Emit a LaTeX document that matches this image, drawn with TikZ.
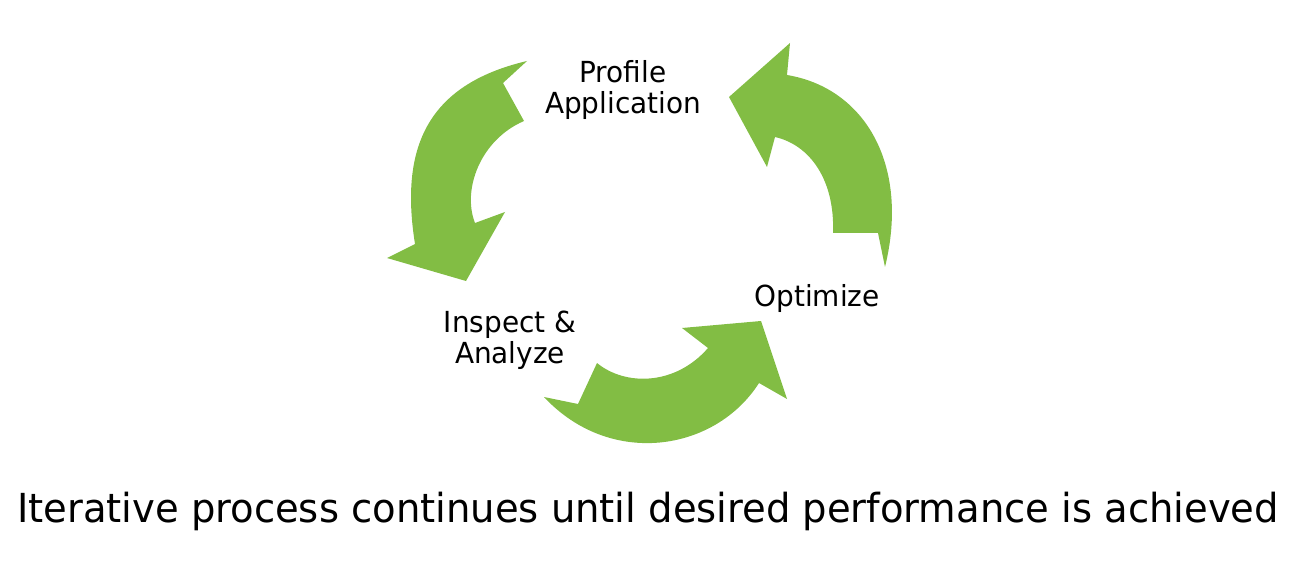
\documentclass[tikz,border=0pt]{standalone}
\usepackage{fontspec}
\setmainfont{DejaVu Sans Condensed}[FakeStretch=1.07]
\usepackage{xcolor}
\definecolor{cyclegreen}{HTML}{82BD44}

\begin{document}
\begin{tikzpicture}[x=1pt, y=-1pt,
  cyclearrow/.style={fill=cyclegreen, draw=none},
  steplabel/.style={align=center, inner sep=0pt, font=\fontsize{29}{31}\selectfont}]
  \useasboundingbox (0,0) rectangle (1311,561);
  % profile -> inspect
  \fill[cyclearrow] (527,61) -- (503,83) -- (524,121)
    .. controls (480,140) and (462,190) .. (475,223)
    -- (505,212) -- (466,281) -- (387,258) -- (415,244)
    .. controls (400,150) and (425,85) .. cycle;
  % inspect -> optimize
  \fill[cyclearrow] (544,397) -- (578,404) -- (597,363)
    .. controls (625,386) and (675,386) .. (708,348)
    -- (682,328) -- (761,321) -- (787,399) -- (759,383)
    .. controls (715,452) and (610,468) .. cycle;
  % optimize -> profile
  \fill[cyclearrow] (885,267) -- (878,233) -- (833,233)
    .. controls (835,180) and (810,145) .. (775,137)
    -- (767,167) -- (729,97) -- (790,43) -- (787,75)
    .. controls (865,88) and (910,165) .. cycle;
  \node[steplabel] (profile) at (623,90) {Profile\\Application};
  \node[steplabel] (inspect) at (510,340) {Inspect \&\\Analyze};
  \node[steplabel, anchor=base] (optimize) at (817,306) {Optimize};
  \node[inner sep=0pt, anchor=base, font=\fontsize{40}{48}\selectfont] (summary) at (648,522)
    {Iterative process continues until desired performance is achieved};
\end{tikzpicture}
\end{document}
